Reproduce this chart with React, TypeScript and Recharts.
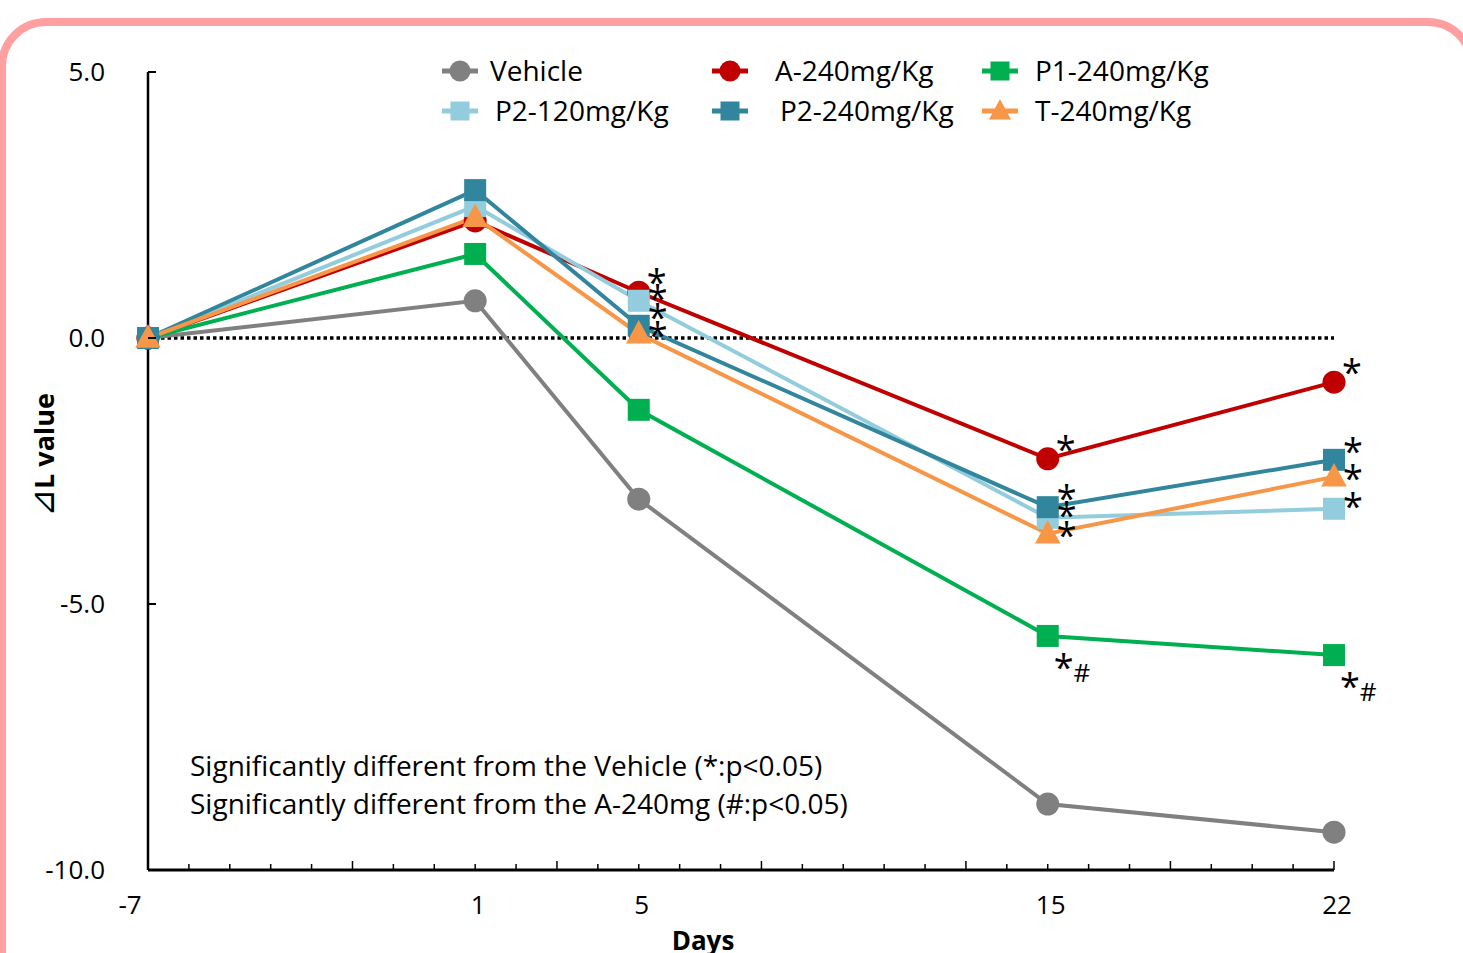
import React from 'react';
import { LineChart, Line, XAxis, YAxis, ReferenceLine, LabelList, Label } from 'recharts';

// days after treatment
const days = [-7, 1, 5, 15, 22];
const labelledDays = [-7, 1, 5, 15, 22];
const dayTicks = [-7, -6, -5, -4, -3, -2, -1, 0, 1, 2, 3, 4, 5, 6, 7, 8, 9, 10, 11, 12, 13, 14, 15, 16, 17, 18, 19, 20, 21, 22];
const majorDayTicks = [-7, -2, 3, 8, 13, 18, 22];
const valueTicks = [-10, -5, 0, 5];

// ⊿L values
const vehicle = [0, 0.7, -3.03, -8.76, -9.29];
const a240 = [0, 2.2, 0.86, -2.27, -0.83];
const p1240 = [0, 1.58, -1.35, -5.6, -5.96];
const p2120 = [0, 2.48, 0.7, -3.38, -3.21];
const p2240 = [0, 2.78, 0.23, -3.18, -2.29];
const t240 = [0, 2.27, 0.08, -3.68, -2.61];

// significance marks per point
const vehicleSig = ['', '', '', '', ''];
const a240Sig = ['', '', '*', '*', '*'];
const p1240Sig = ['', '', '', '*#', '*#'];
const p2120Sig = ['', '', '*', '*', '*'];
const p2240Sig = ['', '', '*', '*', '*'];
const t240Sig = ['', '', '*', '*', '*'];

const notes = [
  'Significantly different from the Vehicle (*:p<0.05)',
  'Significantly different from the A-240mg (#:p<0.05)',
];

type Shape = 'circle' | 'square' | 'triangle';

const series: Array<{
  key: string;
  name: string;
  color: string;
  shape: Shape;
  values: number[];
  sig: string[];
  dx: number;
  dy: number;
}> = [
  { key: 'vehicle', name: 'Vehicle', color: '#808080', shape: 'circle', values: vehicle, sig: vehicleSig, dx: 18, dy: -16 },
  { key: 'a240', name: 'A-240mg/Kg', color: '#C00000', shape: 'circle', values: a240, sig: a240Sig, dx: 18, dy: -17 },
  { key: 'p1240', name: 'P1-240mg/Kg', color: '#00B050', shape: 'square', values: p1240, sig: p1240Sig, dx: 6, dy: 24 },
  { key: 'p2120', name: 'P2-120mg/Kg', color: '#93CDDD', shape: 'square', values: p2120, sig: p2120Sig, dx: 19, dy: -10 },
  { key: 'p2240', name: 'P2-240mg/Kg', color: '#31859C', shape: 'square', values: p2240, sig: p2240Sig, dx: 19, dy: -16 },
  { key: 't240', name: 'T-240mg/Kg', color: '#F79646', shape: 'triangle', values: t240, sig: t240Sig, dx: 19, dy: -6 },
];

const data = days.map((day, i) => {
  const row: Record<string, number | string> = { day };
  series.forEach((s) => {
    row[s.key] = s.values[i];
    row[s.key + 'Sig'] = s.sig[i];
  });
  return row;
});

const FONT = '"Open Sans", sans-serif';

function marker(shape: Shape, color: string, cx: number, cy: number, size: number, key?: string | number) {
  if (shape === 'circle') return <circle key={key} cx={cx} cy={cy} r={size / 2} fill={color} />;
  if (shape === 'square')
    return <rect key={key} x={cx - size / 2} y={cy - size / 2} width={size} height={size} fill={color} />;
  const h = size * 1.05;
  return (
    <polygon
      key={key}
      points={`${cx},${cy - h * 0.6} ${cx + size * 0.58},${cy + h * 0.42} ${cx - size * 0.58},${cy + h * 0.42}`}
      fill={color}
    />
  );
}

const makeDot = (shape: Shape, color: string) => (props: any) => {
  const { cx, cy, key, index } = props;
  if (cx == null || cy == null) return <g key={key ?? index} />;
  return marker(shape, color, cx, cy, shape === 'circle' ? 23 : 22, key ?? index);
};

const makeSig = (dx: number, dy: number) => (props: any) => {
  const { x, y, value } = props;
  if (!value) return null;
  const star = String(value).slice(0, 1);
  const rest = String(value).slice(1);
  return (
    <text x={x + dx} y={y + dy + 20} fontSize={36} fontFamily={FONT} fill="#000" textAnchor={rest ? 'start' : 'middle'}>
      {star}
      {rest && (
        <tspan dx={0} dy={2} fontSize={26}>
          {rest}
        </tspan>
      )}
    </text>
  );
};

const XTick = (props: any) => {
  const { x, y, payload } = props;
  const v = payload.value as number;
  const len = majorDayTicks.includes(v) ? 9 : 6;
  const show = labelledDays.includes(v);
  return (
    <g>
      <line x1={x} x2={x} y1={y} y2={y - len} stroke="#000" strokeWidth={1.5} />
      {show && (
        <text x={x + (v < 0 ? -18 : 3)} y={y + 44} textAnchor="middle" fontSize={26} fontFamily={FONT} fill="#000">
          {v}
        </text>
      )}
    </g>
  );
};

const YTick = (props: any) => {
  const { x, y, payload } = props;
  const v = payload.value as number;
  return (
    <g>
      <line x1={x} x2={x + 8} y1={y} y2={y} stroke="#000" strokeWidth={2} />
      <text x={x - 43} y={y + 9} textAnchor="end" fontSize={26} fontFamily={FONT} fill="#000">
        {v.toFixed(1)}
      </text>
    </g>
  );
};

const legendCols = [460, 730, 1000];
const legendTextX = [490, 775, 1035];
const legendRows = [71, 111];

export default function App() {
  return (
    <div style={{ position: 'absolute', left: 0, top: 0, width: 1463, height: 953, overflow: 'hidden', background: '#fff' }}>
      <div
        style={{
          position: 'absolute',
          left: -2,
          top: 18,
          width: 1478,
          height: 1100,
          border: '8px solid #FF9F9F',
          borderRadius: 48,
          boxSizing: 'border-box',
        }}
      />
      <LineChart width={1463} height={953} data={data} margin={{ top: 72, right: 129, bottom: 0, left: 0 }} style={{ position: 'absolute', left: 0, top: 0 }}>
        <XAxis
          dataKey="day"
          type="number"
          domain={[-7, 22]}
          ticks={dayTicks}
          interval={0}
          height={83}
          tickSize={0}
          tickMargin={0}
          tick={<XTick />}
          stroke="#000"
          strokeWidth={3}
        >
          <Label
            content={(p: any) => {
              const vb = p.viewBox;
              return (
                <text x={vb.x + vb.width / 2 - 38} y={vb.y + 80} textAnchor="middle" fontSize={26} fontWeight="bold" fontFamily={FONT} fill="#000">
                  Days
                </text>
              );
            }}
          />
        </XAxis>
        <YAxis
          type="number"
          domain={[-10, 5]}
          ticks={valueTicks}
          width={148}
          tickSize={0}
          tickMargin={0}
          tick={<YTick />}
          stroke="#000"
          strokeWidth={2.5}
        >
          <Label
            content={(p: any) => {
              const vb = p.viewBox;
              const cx = vb.x + 54;
              const cy = vb.y + vb.height / 2 - 16;
              return (
                <text x={cx} y={cy} transform={`rotate(-90 ${cx} ${cy})`} textAnchor="middle" fontSize={27} fontWeight="bold" fontFamily={FONT} fill="#000">
                  <tspan fontSize={34} fontWeight="normal">⊿</tspan>L value
                </text>
              );
            }}
          />
        </YAxis>
        <ReferenceLine y={0} stroke="#000" strokeWidth={3.5} strokeDasharray="3.5 3" />
        {series.map((s) => (
          <Line
            key={s.key}
            dataKey={s.key}
            name={s.name}
            type="linear"
            stroke={s.color}
            strokeWidth={4}
            dot={makeDot(s.shape, s.color)}
            activeDot={false}
            isAnimationActive={false}
          >
            <LabelList dataKey={s.key + 'Sig'} content={makeSig(s.dx, s.dy)} />
          </Line>
        ))}
      </LineChart>
      <svg width={1463} height={953} style={{ position: 'absolute', left: 0, top: 0, pointerEvents: 'none' }}>
        {series.map((s, i) => {
          const col = i % 3;
          const row = Math.floor(i / 3);
          const cx = legendCols[col];
          const cy = legendRows[row];
          return (
            <g key={s.key}>
              <line x1={cx - 18} x2={cx + 18} y1={cy} y2={cy} stroke={s.color} strokeWidth={5} />
              {marker(s.shape, s.color, cx, cy, s.shape === 'circle' ? 21 : 19)}
              <text x={legendTextX[col] + (row === 1 && col < 2 ? 5 : 0)} y={cy + 10} fontSize={28} fontFamily={FONT} fill="#000">
                {s.name}
              </text>
            </g>
          );
        })}
        {notes.map((n, i) => (
          <text key={i} x={190} y={776 + i * 38} fontSize={28} fontFamily={FONT} fill="#000">
            {n}
          </text>
        ))}
      </svg>
    </div>
  );
}
